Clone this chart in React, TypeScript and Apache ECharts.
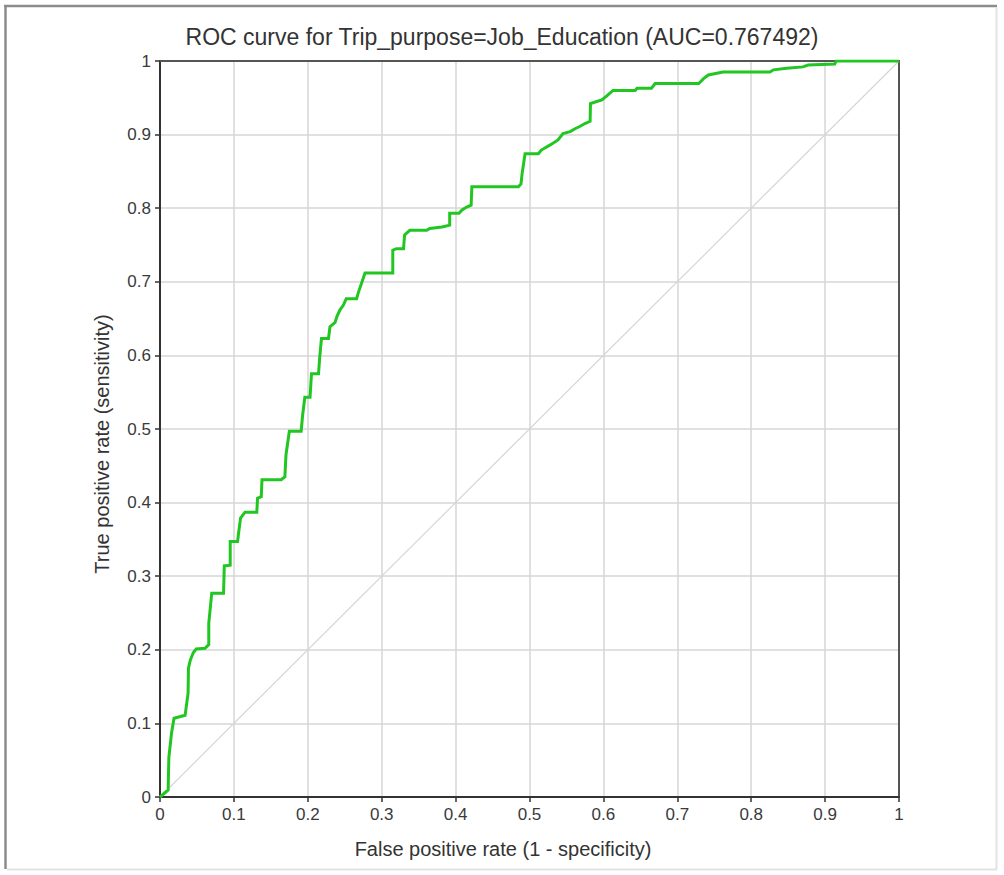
import React, { useEffect, useRef } from 'react';
import * as echarts from 'echarts';

const TITLE = 'ROC curve for Trip_purpose=Job_Education (AUC=0.767492)';
const X_NAME = 'False positive rate (1 - specificity)';
const Y_NAME = 'True positive rate (sensitivity)';

// ROC curve points (false positive rate, true positive rate)
const FPR = [
  0, 0.011, 0.012, 0.0156, 0.019, 0.034, 0.038, 0.0385, 0.041, 0.045,
  0.049, 0.061, 0.066, 0.066, 0.07, 0.086, 0.087, 0.095, 0.095, 0.105,
  0.106, 0.109, 0.115, 0.131, 0.132, 0.137, 0.138, 0.164, 0.169, 0.1705,
  0.175, 0.191, 0.193, 0.196, 0.203, 0.205, 0.2145, 0.216, 0.2185, 0.228,
  0.23, 0.237, 0.2395, 0.2436, 0.248, 0.252, 0.266, 0.2686, 0.2727, 0.2774,
  0.315, 0.315, 0.32, 0.3295, 0.331, 0.338, 0.361, 0.365, 0.3816, 0.392,
  0.392, 0.4046, 0.4087, 0.415, 0.421, 0.422, 0.485, 0.4885, 0.49, 0.494,
  0.512, 0.516, 0.528, 0.5386, 0.5453, 0.555, 0.5616, 0.568, 0.575, 0.582,
  0.5825, 0.591, 0.598, 0.605, 0.613, 0.643, 0.6455, 0.665, 0.67, 0.729,
  0.7355, 0.742, 0.762, 0.8254, 0.83, 0.848, 0.87, 0.877, 0.913, 0.915,
  1,
];
const TPR = [
  0, 0.0095, 0.054, 0.087, 0.107, 0.111, 0.141, 0.175, 0.186, 0.196,
  0.201, 0.202, 0.207, 0.236, 0.277, 0.277, 0.314, 0.315, 0.347, 0.347,
  0.356, 0.379, 0.387, 0.387, 0.406, 0.408, 0.431, 0.431, 0.435, 0.465,
  0.497, 0.497, 0.519, 0.543, 0.543, 0.575, 0.575, 0.596, 0.623, 0.623,
  0.639, 0.645, 0.653, 0.662, 0.668, 0.677, 0.677, 0.686, 0.698, 0.712,
  0.712, 0.743, 0.745, 0.745, 0.7636, 0.77, 0.77, 0.7725, 0.7745, 0.777,
  0.793, 0.793, 0.7976, 0.8016, 0.804, 0.829, 0.829, 0.833, 0.847, 0.874,
  0.874, 0.879, 0.886, 0.8927, 0.9015, 0.904, 0.908, 0.911, 0.915, 0.918,
  0.942, 0.945, 0.947, 0.953, 0.96, 0.96, 0.963, 0.963, 0.9694, 0.9694,
  0.976, 0.981, 0.985, 0.985, 0.988, 0.99, 0.992, 0.9946, 0.996, 1,
  1,
];
// chance diagonal
const DIAG_X = [0, 1];
const DIAG_Y = [0, 1];

const AXIS_MIN = 0;
const AXIS_MAX = 1;
const AXIS_STEP = 0.1;

const FONT = '"Liberation Sans", Arial, Helvetica, sans-serif';

export default function App() {
  const ref = useRef<HTMLDivElement>(null);

  useEffect(() => {
    if (!ref.current) return;
    const chart = echarts.init(ref.current, undefined, { renderer: 'svg' });

    const mainAxisCommon = {
      type: 'value' as const,
      min: AXIS_MIN,
      max: AXIS_MAX,
      interval: AXIS_STEP,
      axisLine: { show: true, onZero: false, lineStyle: { color: '#333', width: 2 } },
      axisTick: { show: true, inside: false, length: 5, lineStyle: { color: '#333', width: 1.5 } },
      axisLabel: { show: true, color: '#3a3a3a', fontSize: 17, fontFamily: FONT },
      splitLine: { show: true, lineStyle: { color: '#d6d6d6', width: 1.5 } },
    };
    const borderAxisCommon = {
      type: 'value' as const,
      min: AXIS_MIN,
      max: AXIS_MAX,
      interval: AXIS_STEP,
      axisLine: { show: true, onZero: false, lineStyle: { color: '#555', width: 2 } },
      axisTick: { show: false },
      axisLabel: { show: false },
      splitLine: { show: false },
    };

    chart.setOption({
      animation: false,
      backgroundColor: '#ffffff',
      grid: { left: 160, right: 105, top: 61, bottom: 78, containLabel: false },
      xAxis: [
        { ...mainAxisCommon, position: 'bottom', axisLabel: { ...mainAxisCommon.axisLabel, margin: 9 } },
        { ...borderAxisCommon, position: 'top' },
      ],
      yAxis: [
        { ...mainAxisCommon, position: 'left', axisLabel: { ...mainAxisCommon.axisLabel, margin: 9 } },
        { ...borderAxisCommon, position: 'right' },
      ],
      series: [
        {
          type: 'line',
          xAxisIndex: 0,
          yAxisIndex: 0,
          data: DIAG_X.map((x, i) => [x, DIAG_Y[i]]),
          showSymbol: false,
          symbol: 'none',
          lineStyle: { color: '#d6d6d6', width: 1.2 },
          z: 2,
          silent: true,
        },
        {
          type: 'line',
          xAxisIndex: 0,
          yAxisIndex: 0,
          data: FPR.map((x, i) => [x, TPR[i]]),
          showSymbol: false,
          symbol: 'none',
          lineStyle: { color: '#22c622', width: 3, join: 'miter' },
          z: 3,
          silent: true,
        },
      ],
      graphic: [
        { type: 'line', shape: { x1: 4, y1: 6, x2: 997, y2: 6 }, style: { stroke: '#8c8c8c', lineWidth: 2.5 }, z: 10 },
        { type: 'line', shape: { x1: 5.5, y1: 5, x2: 5.5, y2: 869 }, style: { stroke: '#8c8c8c', lineWidth: 2.5 }, z: 10 },
        { type: 'line', shape: { x1: 996.5, y1: 7, x2: 996.5, y2: 869 }, style: { stroke: '#e2e2e2', lineWidth: 2 }, z: 10 },
        { type: 'line', shape: { x1: 7, y1: 869.5, x2: 997, y2: 869.5 }, style: { stroke: '#e2e2e2', lineWidth: 2 }, z: 10 },
        {
          type: 'text',
          x: 502,
          y: 37,
          style: { text: TITLE, fill: '#333', font: `23px ${FONT}`, align: 'center', verticalAlign: 'middle' },
          z: 10,
        },
        {
          type: 'text',
          x: 503,
          y: 849,
          style: { text: X_NAME, fill: '#333', font: `20px ${FONT}`, align: 'center', verticalAlign: 'middle' },
          z: 10,
        },
        {
          type: 'text',
          x: 102,
          y: 444,
          rotation: Math.PI / 2,
          style: { text: Y_NAME, fill: '#333', font: `20px ${FONT}`, align: 'center', verticalAlign: 'middle' },
          z: 10,
        },
      ],
    });

    return () => chart.dispose();
  }, []);

  return (
    <div
      ref={ref}
      style={{ position: 'absolute', left: 0, top: 0, width: 1004, height: 875, background: '#fff' }}
    />
  );
}
